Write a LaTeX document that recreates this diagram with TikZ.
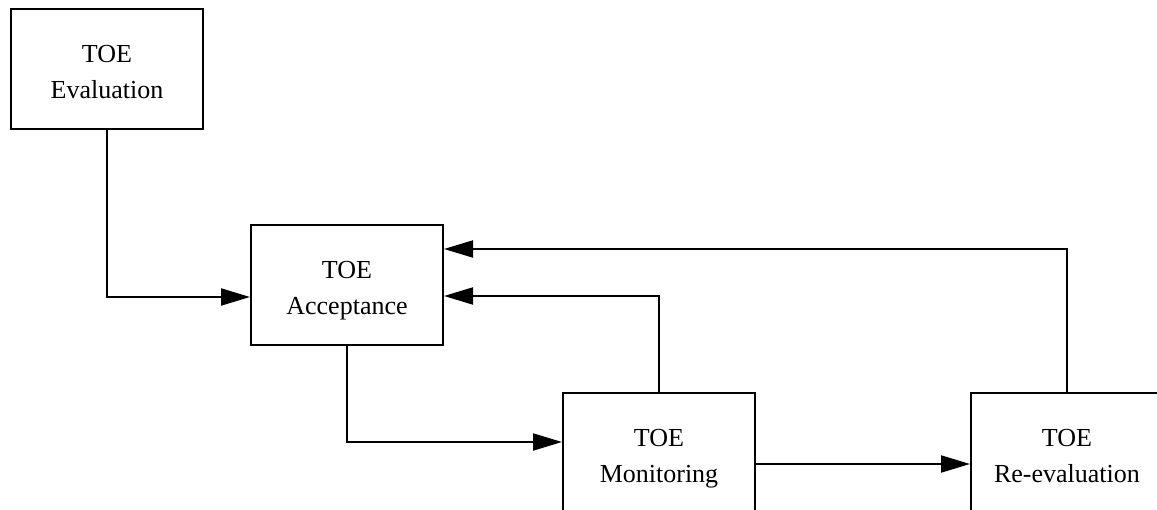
\documentclass[tikz,border=0pt]{standalone}
\usepackage{fontspec}
\setmainfont{Liberation Serif}
\usetikzlibrary{arrows.meta}
\tikzset{
  box/.style={draw, line width=2pt, minimum width=192pt, minimum height=120pt, inner sep=0pt, align=center, text height=59pt, text depth=0pt, font=\fontsize{26}{36}\selectfont},
  conn/.style={line width=2pt, -{Triangle[length=29pt,width=17pt]}}
}
\begin{document}
\begin{tikzpicture}[x=1pt,y=-1pt]
\useasboundingbox (0,0) rectangle (1157,510);
\clip (0,0) rectangle (1157,510);
\node[box] (eval) at (107,69) {TOE\\Evaluation};
\node[box] (acc) at (347,285) {TOE\\Acceptance};
\node[box] (mon) at (659,453) {TOE\\Monitoring};
\node[box] (reev) at (1067,453) {TOE\\Re-evaluation};
\draw[conn] (eval.south) |- ([yshift=-12pt]acc.west);
\draw[conn] (acc.south) |- ([yshift=11pt]mon.west);
\draw[conn] (mon.north) |- ([yshift=-11pt]acc.east);
\draw[conn] (reev.north) |- ([yshift=36pt]acc.east);
\draw[conn] ([yshift=-11pt]mon.east) -- ([yshift=-11pt]reev.west);
\end{tikzpicture}
\end{document}
